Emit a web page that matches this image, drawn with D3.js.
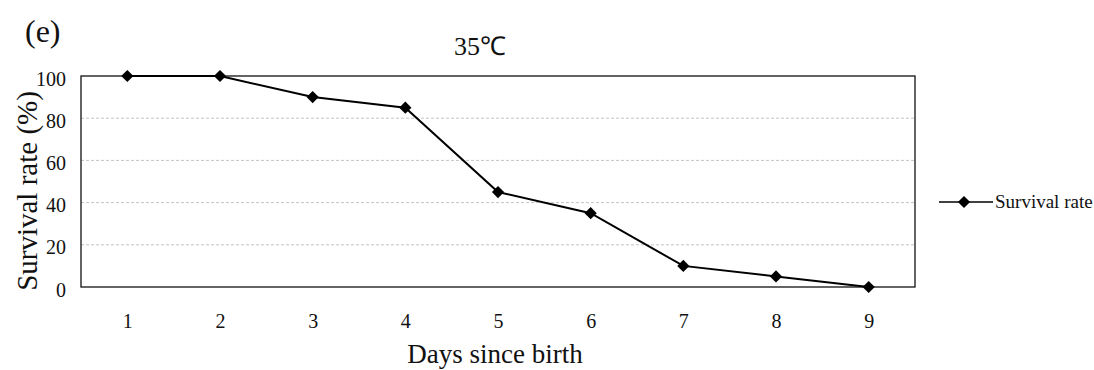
<!DOCTYPE html>
<html><head><meta charset="utf-8">
<script src="https://cdn.jsdelivr.net/npm/d3@7"></script>
<style>body{margin:0;background:#fff}</style>
</head><body><svg id="c" width="1094" height="370"></svg>
<script>
const days = [1,2,3,4,5,6,7,8,9];
const survival = [100,100,90,85,45,35,10,5,0];
const yTicks = [0,20,40,60,80,100];
const seriesName = "Survival rate";

const FONT = '"Liberation Serif", "Times New Roman", serif';
const svg = d3.select("#c");
const L=81,R=915,T=76,B=287;
const x = d3.scalePoint().domain(days).range([L,R]).padding(0.5);
const y = d3.scaleLinear().domain([0,100]).range([B,T]);

// grid
svg.append("g").selectAll("line").data(yTicks.filter(d=>d>0&&d<100)).join("line")
  .attr("x1",L).attr("x2",R).attr("y1",d=>y(d)).attr("y2",d=>y(d))
  .attr("stroke","#c4c4c4").attr("stroke-width",1).attr("stroke-dasharray","3,2");

svg.append("rect").attr("x",L).attr("y",T).attr("width",R-L).attr("height",B-T)
  .attr("fill","none").attr("stroke","#111").attr("stroke-width",1.3);

// axes
const ya = svg.append("g").attr("transform",`translate(${L},0)`)
  .call(d3.axisLeft(y).tickValues(yTicks).tickSize(0).tickPadding(15));
ya.select(".domain").remove();
ya.selectAll("text").attr("dy","0.45em").style("font-size","20px").style("font-family",FONT).attr("fill","#111");
const xa = svg.append("g").attr("transform",`translate(0,${B})`)
  .call(d3.axisBottom(x).tickSize(0).tickPadding(27));
xa.select(".domain").remove();
xa.selectAll("text").style("font-size","20px").style("font-family",FONT).attr("fill","#111");

// line
svg.append("path").datum(days.map((d,i)=>[d,survival[i]]))
  .attr("d",d3.line().x(d=>x(d[0])).y(d=>y(d[1])))
  .attr("fill","none").attr("stroke","#000").attr("stroke-width",2);
const diamond = d3.symbol().type(d3.symbolDiamond2).size(95);
svg.append("g").selectAll("path").data(days).join("path")
  .attr("transform",(d,i)=>`translate(${x(d)},${y(survival[i])})`)
  .attr("d",diamond).attr("fill","#000");

// titles
function txt(xp,yp,size,s,anchor){
  return svg.append("text").attr("x",xp).attr("y",yp).attr("text-anchor",anchor||"start")
    .style("font-family",FONT).style("font-size",size+"px").attr("fill","#111").text(s);
}
txt(25,42,32,"(e)");
txt(480,55,26,"35℃","middle");
txt(495,363,27,"Days since birth","middle");
svg.append("text").attr("transform","translate(37,191) rotate(-90)").attr("text-anchor","middle")
  .style("font-family",FONT).style("font-size","29px").attr("fill","#111").text("Survival rate (%)");

// legend
const lg = svg.append("g");
lg.append("line").attr("x1",939).attr("x2",993).attr("y1",202).attr("y2",202).attr("stroke","#000").attr("stroke-width",1.5);
lg.append("path").attr("transform","translate(964,202)").attr("d",diamond).attr("fill","#000");
lg.append("text").attr("x",995).attr("y",208).style("font-family",FONT).style("font-size","19px").attr("fill","#111").text(seriesName);
</script></body></html>
